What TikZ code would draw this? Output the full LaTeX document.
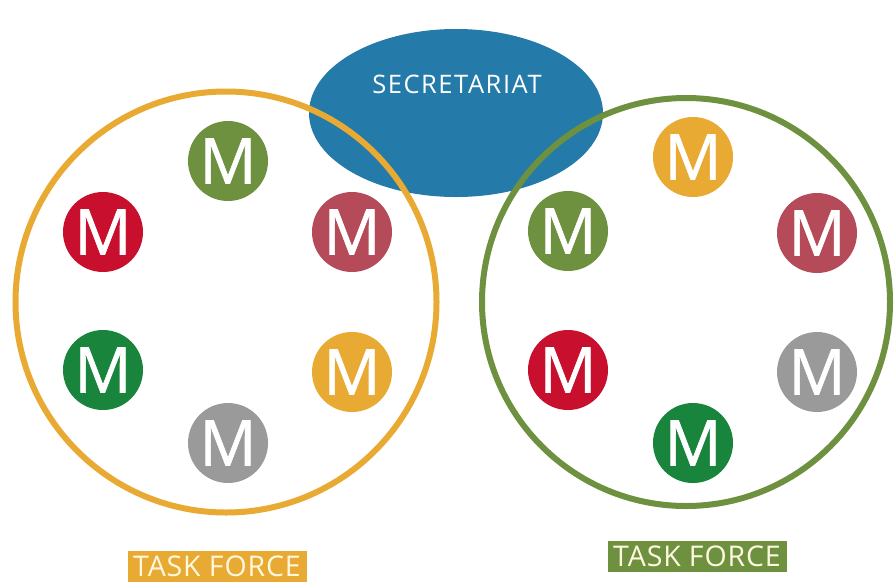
\documentclass[tikz,border=0pt]{standalone}
\usepackage{fontspec}
\setmainfont{Open Sans}
\newfontfamily\mfont[FakeBold=1]{Open Sans}
\newfontfamily\wfont[LetterSpace=6]{Open Sans}
\newfontfamily\tfont[LetterSpace=3]{Open Sans}
\usetikzlibrary{shapes.geometric}
\definecolor{olive}{RGB}{110,145,64}
\definecolor{mred}{RGB}{200,16,46}
\definecolor{rose}{RGB}{181,74,88}
\definecolor{dgreen}{RGB}{24,132,60}
\definecolor{morange}{RGB}{232,170,50}
\definecolor{mgray}{RGB}{154,154,154}
\definecolor{sblue}{RGB}{36,122,168}
\definecolor{cream}{RGB}{255,248,225}
\tikzset{
  member/.style={circle,fill=#1,minimum size=80pt,inner sep=0pt,text=white,
    font=\mfont\fontsize{63}{63}\selectfont},
  group/.style={circle,draw=#1,line width=6pt,inner sep=0pt},
  tflabel/.style={fill=#1,text=cream,inner sep=0pt,minimum height=31pt,minimum width=179pt,
    font=\tfont\fontsize{28.5}{28.5}\selectfont},
}
\begin{document}
\begin{tikzpicture}[x=1pt,y=-1pt]
\useasboundingbox[fill=white] (0,0) rectangle (896,582);
\node[ellipse,fill=sblue,minimum width=294pt,minimum height=168pt,inner sep=0pt] (sec) at (456,113) {};
\node[text=white,font=\wfont\fontsize{25.5}{25.5}\selectfont] (sectext) at (457,84) {SECRETARIAT};
\node[group=morange,minimum size=421pt] (left) at (226,302) {};
\node[group=olive,minimum size=408pt] (right) at (686,302) {};
% left group
\node[member=olive] (l1) at (228,161) {M};
\node[member=mred] (l2) at (103,232) {M};
\node[member=rose] (l3) at (352,232) {M};
\node[member=dgreen] (l4) at (103,370) {M};
\node[member=morange] (l5) at (352,372) {M};
\node[member=mgray] (l6) at (228,443) {M};
% right group
\node[member=morange] (r1) at (693,157) {M};
\node[member=olive] (r2) at (568,231) {M};
\node[member=rose] (r3) at (817,233) {M};
\node[member=mred] (r4) at (568,370) {M};
\node[member=mgray] (r5) at (817,372) {M};
\node[member=dgreen] (r6) at (693,443) {M};
\node[tflabel=morange] (tfl) at (217,566) {TASK FORCE};
\node[tflabel=olive] (tfr) at (697,556) {TASK FORCE};
\end{tikzpicture}
\end{document}
